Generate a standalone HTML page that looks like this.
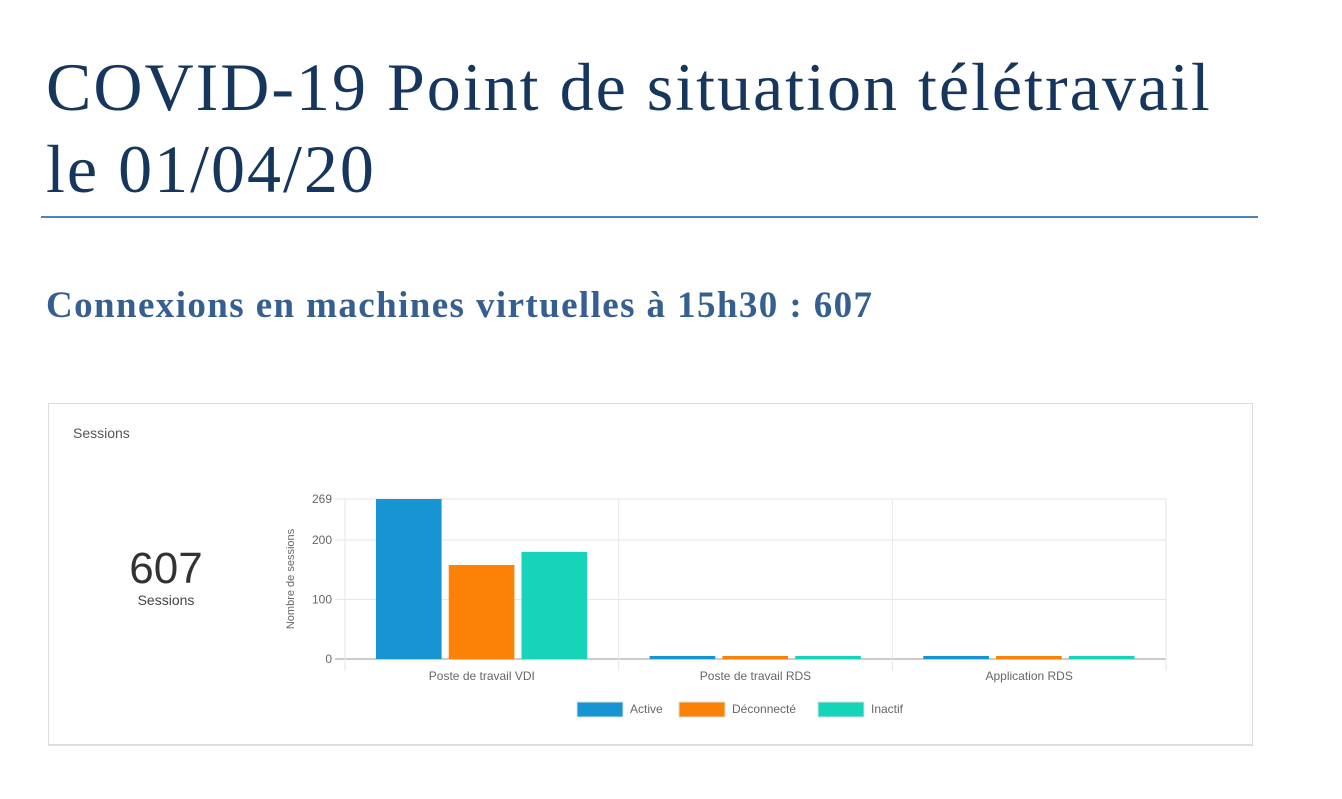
<!DOCTYPE html>
<html><head><meta charset="utf-8"><style>
body{margin:0;width:1342px;height:799px;background:#fff;position:relative;overflow:hidden;font-family:"Liberation Sans",sans-serif}
.t{position:absolute;left:46px;font-family:"Liberation Serif",serif;color:#17365d;font-size:68px;letter-spacing:2px;line-height:82px;top:46px;margin:0;font-weight:normal}
.rule{position:absolute;left:41px;top:216px;width:1217px;height:2px;background:#4f81bd}
.sub{position:absolute;left:46px;top:284px;margin:0;font-family:"Liberation Serif",serif;font-weight:bold;font-size:37px;letter-spacing:1.4px;color:#365f91}
.card{position:absolute;left:48px;top:403px;width:1203px;height:340px;border:1px solid #ddd;border-bottom:2px solid #ddd}
</style></head><body>
<h1 class="t">COVID-19 Point de situation télétravail<br>le 01/04/20</h1>
<div class="rule"></div>
<h2 class="sub">Connexions en machines virtuelles à 15h30 : 607</h2>
<div class="card"></div>
<svg width="1342" height="799" style="position:absolute;left:0;top:0" id="chart">
<text x="73" y="438" font-size="14" fill="#555">Sessions</text>
<text x="166" y="583" font-size="44" fill="#333" text-anchor="middle">607</text>
<text x="166" y="605" font-size="14" fill="#444" text-anchor="middle">Sessions</text>
<text transform="translate(294,579) rotate(-90)" font-size="11" fill="#666" text-anchor="middle">Nombre de sessions</text>
</svg>
<script>
const categories=["Poste de travail VDI","Poste de travail RDS","Application RDS"];
const seriesNames=["Active","Déconnecté","Inactif"];
const colors=["#1795d2","#fb8107","#15d4b9"];
const active=[269,0,0];
const deconnecte=[158,0,0];
const inactif=[180,0,0];
const yTicks=[0,100,200,269];
const yMax=269;
const series=[active,deconnecte,inactif];
const svg=document.getElementById('chart');
const NS='http://www.w3.org/2000/svg';
const X0=345,X1=1166,Y0=659,Y1=499;
const y=v=>Y0-(v/yMax)*(Y0-Y1);
const cw=(X1-X0)/categories.length;
function mk(t,a){const e=document.createElementNS(NS,t);for(const k in a)e.setAttribute(k,a[k]);svg.appendChild(e);return e;}
yTicks.forEach(v=>{
 const l=mk('line',{x1:X0-10,x2:X1,y1:y(v),y2:y(v),stroke:v===0?'#999':'#e6e6e6'});
 
 
 const t=mk('text',{x:X0-13,y:y(v)+4,'font-size':12,fill:'#666','text-anchor':'end'});t.textContent=v;
 
 
});
for(let i=0;i<=categories.length;i++){
 const l=mk('line',{x1:X0+i*cw,x2:X0+i*cw,y1:Y1,y2:Y0+12,stroke:'#e6e6e6'});
 
 
}
const bw=cw*0.24,gap=cw*0.026,off=cw*0.113;
categories.forEach((c,i)=>{
 const t=mk('text',{x:X0+(i+0.5)*cw,y:Y0+21,'font-size':12,fill:'#666','text-anchor':'middle'});t.textContent=c;
 
 
 series.forEach((s,j)=>{
  const h=Math.max(3,Y0-y(s[i]));
  const r=mk('rect',{x:X0+i*cw+off+j*(bw+gap),y:Y0-h,width:bw,height:h,fill:colors[j]});
  
  
 });
});
const lx=[577,679,818];
seriesNames.forEach((n,j)=>{
 const r=mk('rect',{x:lx[j],y:702,width:46,height:15,fill:colors[j],stroke:'#ddd'});
 
 
 const t=mk('text',{x:lx[j]+53,y:713,'font-size':12,fill:'#666'});t.textContent=n;
 
 
});
</script>
</body></html>
